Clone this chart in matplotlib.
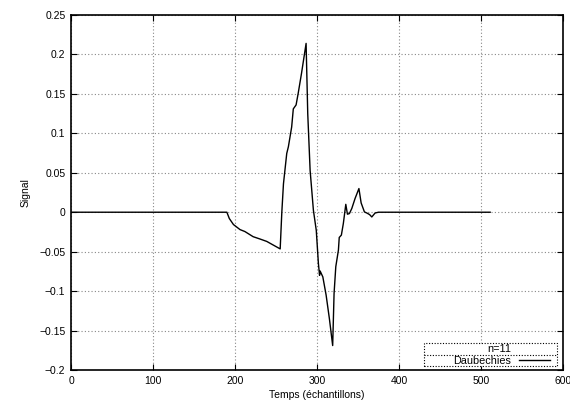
import matplotlib
matplotlib.use("Agg")
import matplotlib.pyplot as plt
from matplotlib.patches import Rectangle

plt.rcParams['font.family'] = ['Liberation Sans', 'DejaVu Sans']
plt.rcParams['font.size'] = 7.5

# signal (sample index, value)
t = [0, 190, 193, 198, 206, 212, 222, 230.5, 238.6, 255, 257, 259, 263, 265, 269,
     271, 274.4, 277, 281, 286.6, 288.6, 291.5, 295.5, 299, 301.6, 303, 303.7, 307,
     311, 315, 319, 320.7, 322.8, 326, 327, 329.6, 332, 335, 337, 339.4, 342.3,
     346.3, 351, 353.7, 357.7, 360.6, 364, 366.7, 370.7, 374.8, 511]
signal = [0, 0, -0.008, -0.0156, -0.022, -0.0245, -0.031, -0.034, -0.037, -0.0465,
          0.0, 0.036, 0.0745, 0.083, 0.108, 0.131, 0.136, 0.151, 0.176, 0.214,
          0.125, 0.053, 0.0025, -0.023, -0.065, -0.080, -0.0745, -0.082, -0.105,
          -0.135, -0.169, -0.103, -0.069, -0.048, -0.032, -0.029, -0.0143, 0.010,
          -0.0025, -0.0017, 0.0047, 0.0174, 0.030, 0.0118, 0.0004, -0.001, -0.003,
          -0.006, -0.001, 0.0, 0.0]

series_label = 'Daubechies'
key_title = 'n=11'

xticks = [0, 100, 200, 300, 400, 500, 600]
yticks = [-0.2, -0.15, -0.1, -0.05, 0, 0.05, 0.1, 0.15, 0.2, 0.25]
ytick_labels = ['\u22120.2', '\u22120.15', '\u22120.1', '\u22120.05', '0',
                '0.05', '0.1', '0.15', '0.2', '0.25']

fig = plt.figure(figsize=(5.7, 4.05), dpi=100)
ax = fig.add_axes([0.1246, 0.0864, 0.8634, 0.8766])

ax.plot(t, signal, color='black', linewidth=1.0)

ax.set_xlim(0, 600)
ax.set_ylim(-0.2, 0.25)
ax.set_xticks(xticks)
ax.set_yticks(yticks)
ax.set_yticklabels(ytick_labels)
ax.tick_params(direction='in', top=True, right=True, length=4, width=0.8, pad=4)
ax.grid(True, color='#888888', linestyle=(0, (1, 2)), linewidth=0.8)
for s in ax.spines.values():
    s.set_linewidth(1.2)

ax.set_xlabel('Temps (échantillons)', labelpad=3)
ax.set_ylabel('Signal', labelpad=6)

# gnuplot-style key: dotted box, title row and entry row, right-justified text
dot = (0, (1, 1.5))
ax.add_patch(Rectangle((0.7175, 0.0113), 0.2703, 0.0647, transform=ax.transAxes,
                       facecolor='white', edgecolor='black', linestyle=dot,
                       linewidth=0.8, zorder=5))
ax.plot([0.7175, 0.9878], [0.0423, 0.0423], transform=ax.transAxes,
        color='black', linestyle=dot, linewidth=0.8, zorder=6)
ax.text(0.894, 0.060, key_title, transform=ax.transAxes, ha='right',
        va='center', fontsize=7.8, zorder=7)
ax.text(0.894, 0.025, series_label, transform=ax.transAxes, ha='right',
        va='center', fontsize=7.8, zorder=7)
ax.plot([0.910, 0.973], [0.027, 0.027], transform=ax.transAxes,
        color='black', linewidth=1.0, zorder=7)

fig.savefig('out.png', dpi=100)
